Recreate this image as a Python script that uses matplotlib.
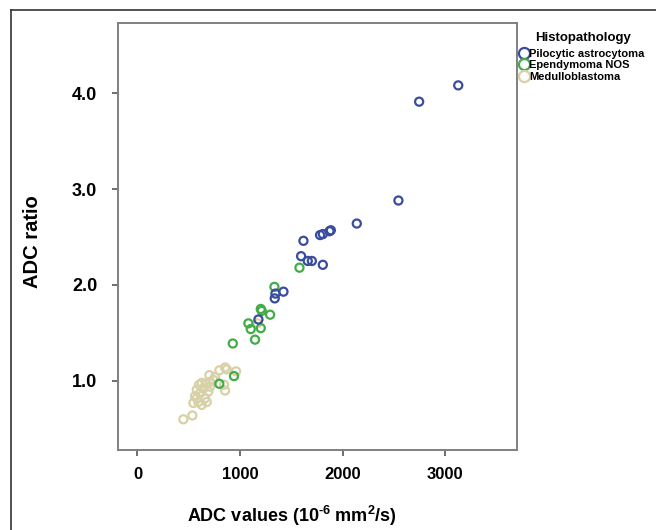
import matplotlib
matplotlib.use("Agg")
import matplotlib.pyplot as plt
from matplotlib.lines import Line2D

plt.rcParams["font.family"] = ["Liberation Sans", "DejaVu Sans"]
plt.rcParams["mathtext.fontset"] = "custom"
plt.rcParams["mathtext.bf"] = "Liberation Sans:bold"
plt.rcParams["mathtext.rm"] = "Liberation Sans:bold"

# ADC value (10^-6 mm2/s) and ADC ratio per tumour group
pilo_adc = [3127, 2746, 2544, 2138, 1885, 1872, 1807, 1780, 1618, 1595,
            1660, 1700, 1807, 1423, 1345, 1338, 1179]
pilo_ratio = [4.08, 3.91, 2.88, 2.64, 2.57, 2.56, 2.53, 2.52, 2.46, 2.30,
              2.25, 2.25, 2.21, 1.93, 1.91, 1.86, 1.64]

epen_adc = [1579, 1335, 1202, 1211, 1293, 1081, 1104, 1202, 1146, 929,
            941, 798]
epen_ratio = [2.18, 1.98, 1.75, 1.73, 1.69, 1.60, 1.54, 1.55, 1.43, 1.39,
              1.05, 0.97]

medu_adc = [447, 535, 854, 870, 798, 961, 700, 854, 844, 740, 707, 626,
            642, 578, 691, 610, 561, 659, 593, 545, 626, 675, 707, 756,
            1170, 600, 665, 580]
medu_ratio = [0.60, 0.64, 1.14, 1.12, 1.11, 1.10, 1.06, 0.90, 0.96, 1.01,
              0.99, 0.98, 0.92, 0.91, 0.89, 0.87, 0.84, 0.82, 0.78, 0.77,
              0.75, 0.78, 0.94, 1.04, 1.60, 0.96, 0.97, 0.82]

groups = ["Pilocytic astrocytoma", "Ependymoma NOS", "Medulloblastoma"]
colors = ["#3a4c9e", "#42ad48", "#d8d0a6"]

x_ticks = [0, 1000, 2000, 3000]
y_ticks = [1.0, 2.0, 3.0, 4.0]

fig = plt.figure(figsize=(6.56, 5.30), dpi=100)

# outer frame (left and top edges only visible)
fig.add_artist(Line2D([11 / 656, 11 / 656], [0, 1 - 10 / 530],
                      transform=fig.transFigure, color="#333333", lw=1.2))
fig.add_artist(Line2D([11 / 656, 1], [1 - 10 / 530, 1 - 10 / 530],
                      transform=fig.transFigure, color="#333333", lw=1.2))

ax = fig.add_axes([118 / 656, 1 - 450 / 530, 399 / 656, 427 / 530])

series = [(medu_adc, medu_ratio, colors[2]),
          (epen_adc, epen_ratio, colors[1]),
          (pilo_adc, pilo_ratio, colors[0])]
for xs, ys, c in series:
    ax.scatter(xs, ys, s=34, facecolors="none", edgecolors=c, linewidths=1.6)

ax.set_xlim(-190, 3700)
ax.set_ylim(0.28, 4.73)
ax.set_xticks(x_ticks)
ax.set_xticklabels([str(t) for t in x_ticks], fontweight="bold", fontsize=12)
ax.set_yticks(y_ticks)
ax.set_yticklabels([f"{t:.1f}" for t in y_ticks], fontweight="bold", fontsize=13)
ax.tick_params(axis="x", length=4, width=1.2, color="#555555", pad=8)
ax.tick_params(axis="y", length=4, width=1.2, color="#555555", pad=11)
for sp in ax.spines.values():
    sp.set_color("#808080")
    sp.set_linewidth(1.4)

ax.set_ylabel("ADC ratio", fontweight="bold", fontsize=14.5)
ax.yaxis.set_label_coords(-0.19, 0.487)
ax.set_xlabel(r"ADC values (10$^{\mathbf{\text{-}6}}$ mm$^{\mathbf{2}}$/s)",
              fontweight="bold", fontsize=13)
ax.xaxis.set_label_coords((292 - 118) / 399, -0.127)

handles = [Line2D([], [], ls="none", marker="o", markersize=8,
                  markerfacecolor="none", markeredgecolor=c, markeredgewidth=1.6)
           for c in colors]
leg = ax.legend(handles, groups, title="Histopathology",
                loc="upper left", bbox_to_anchor=(0.985, 1.0),
                frameon=False, handlelength=0.6, handletextpad=0.2,
                labelspacing=0.15, borderaxespad=0.45,
                prop={"family": ["Liberation Sans Narrow", "Liberation Sans"],
                      "weight": "bold", "size": 8},
                title_fontproperties={"family": ["Liberation Sans Narrow", "Liberation Sans"],
                                      "weight": "bold", "size": 9.5})
leg._legend_box.align = "center"
leg._legend_box.sep = 3

fig.savefig("out.png", dpi=100)
